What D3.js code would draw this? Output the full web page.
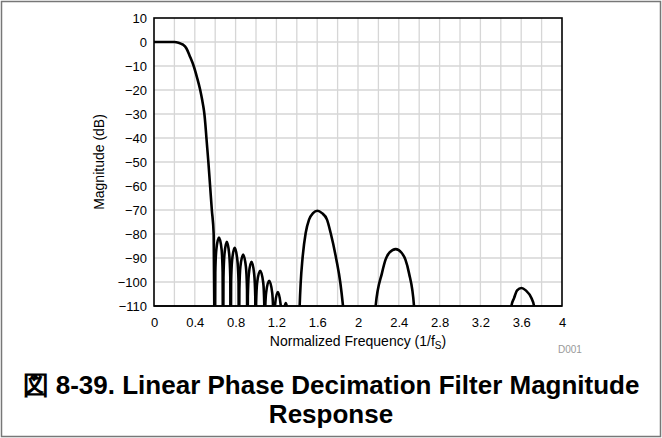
<!DOCTYPE html>
<html>
<head>
<meta charset="utf-8">
<script src="https://cdn.jsdelivr.net/npm/d3@7"></script>
<style>
  body { margin: 0; background: #fff; }
  svg { display: block; font-family: "Liberation Sans", Arial, sans-serif; }
</style>
</head>
<body>
<script>
// tick labels
const xTicks = [0, 0.4, 0.8, 1.2, 1.6, 2, 2.4, 2.8, 3.2, 3.6, 4];
const yTicks = [10, 0, -10, -20, -30, -40, -50, -60, -70, -80, -90, -100, -110];

// passband + main lobe (normalized freq, dB)
const mainLobe = [
  [0, 0], [0.1, 0], [0.2, 0], [0.24, -0.3], [0.284, -1.1], [0.317, -2.6],
  [0.35, -5.8], [0.389, -10], [0.42, -14.5], [0.452, -19.8], [0.473, -24.3],
  [0.484, -27], [0.494, -30], [0.504, -34.5], [0.514, -40], [0.533, -50],
  [0.55, -60], [0.567, -70], [0.585, -80], [0.597, -140]
];

// small sidelobes just past the transition band
const nearLobes = [
  [[0.597, -140], [0.601, -96], [0.611, -86.5], [0.637, -81.5], [0.663, -86.5], [0.673, -96], [0.677, -140]],
  [[0.677, -140], [0.681, -98], [0.691, -88.3], [0.714, -83.3], [0.737, -88.3], [0.748, -98], [0.752, -140]],
  [[0.752, -140], [0.756, -100], [0.766, -90.8], [0.791, -85.8], [0.817, -90.8], [0.829, -100], [0.833, -140]],
  [[0.833, -140], [0.837, -103], [0.847, -93.6], [0.874, -88.6], [0.901, -93.6], [0.912, -103], [0.916, -140]],
  [[0.916, -140], [0.92, -106], [0.93, -96.6], [0.956, -91.6], [0.982, -96.6], [0.993, -106], [0.997, -140]],
  [[0.997, -140], [1.001, -109], [1.011, -100.3], [1.041, -95.3], [1.071, -100.3], [1.081, -109], [1.085, -140]],
  [[1.085, -140], [1.089, -113], [1.099, -104.5], [1.129, -99.5], [1.159, -104.5], [1.169, -113], [1.173, -140]],
  [[1.173, -140], [1.177, -118], [1.187, -109.2], [1.214, -104.2], [1.241, -109.2], [1.251, -118], [1.255, -140]],
  [[1.255, -140], [1.259, -122], [1.269, -113.8], [1.292, -108.8], [1.315, -113.8], [1.326, -122], [1.33, -140]]
];

// aliasing images further out
const farLobes = [
  [[1.418, -125], [1.428, -110], [1.438, -100.4], [1.455, -90.7], [1.487, -79.6], [1.52, -74],
   [1.559, -71.3], [1.602, -70.3], [1.647, -71.3], [1.696, -74], [1.732, -79.6], [1.788, -90.7],
   [1.827, -100.4], [1.853, -110], [1.875, -120]],
  [[2.165, -118], [2.173, -110], [2.235, -96.3], [2.27, -90.7], [2.31, -87.7], [2.37, -86.3],
   [2.425, -87.7], [2.465, -90.7], [2.5, -96.3], [2.549, -110], [2.556, -118]],
  [[3.495, -118], [3.504, -110], [3.53, -106.7], [3.56, -103.5], [3.602, -102.5], [3.645, -103.5],
   [3.7, -106.7], [3.726, -110], [3.735, -118]]
];

const width = 662;
const height = 438;
const plotLeft = 154;
const plotRight = 562;
const plotTop = 18;
const plotBottom = 306;

const svg = d3.select("body")
  .append("svg")
  .attr("width", width)
  .attr("height", height);

// outer frame
svg.append("rect")
  .attr("x", 1.5).attr("y", 1.5)
  .attr("width", width - 3).attr("height", height - 3)
  .attr("fill", "none")
  .attr("stroke", "#777")
  .attr("stroke-width", 1.5);

const x = d3.scaleLinear().domain([0, 4]).range([plotLeft, plotRight]);
const y = d3.scaleLinear().domain([-110, 10]).range([plotBottom, plotTop]);

// grid
const grid = svg.append("g").attr("stroke", "#d6d6d6").attr("stroke-width", 1.3);
grid.selectAll("line.v")
  .data(d3.range(1, 20).map(i => i * 0.2))
  .join("line")
  .attr("class", "v")
  .attr("x1", d => x(d)).attr("x2", d => x(d))
  .attr("y1", plotTop).attr("y2", plotBottom);
grid.selectAll("line.h")
  .data(yTicks.slice(1, -1))
  .join("line")
  .attr("class", "h")
  .attr("x1", plotLeft).attr("x2", plotRight)
  .attr("y1", d => y(d)).attr("y2", d => y(d));

// frame
svg.append("rect")
  .attr("x", plotLeft).attr("y", plotTop)
  .attr("width", plotRight - plotLeft).attr("height", plotBottom - plotTop)
  .attr("fill", "none")
  .attr("stroke", "#000")
  .attr("stroke-width", 1.6);

// axes (labels only, no tick marks)
svg.append("g")
  .attr("transform", `translate(0, ${plotBottom})`)
  .call(d3.axisBottom(x).tickValues(xTicks).tickSize(0).tickPadding(12).tickFormat(d3.format("~g")))
  .call(g => g.select(".domain").remove())
  .selectAll("text")
  .attr("font-size", 13)
  .attr("font-family", "Liberation Sans, Arial, sans-serif")
  .attr("fill", "#000");

svg.append("g")
  .attr("transform", `translate(${plotLeft}, 0)`)
  .call(d3.axisLeft(y).tickValues(yTicks).tickSize(0).tickPadding(7))
  .call(g => g.select(".domain").remove())
  .selectAll("text")
  .attr("font-size", 13)
  .attr("font-family", "Liberation Sans, Arial, sans-serif")
  .attr("fill", "#000");

// curve
svg.append("clipPath")
  .attr("id", "plot-clip")
  .append("rect")
  .attr("x", plotLeft).attr("y", plotTop - 2)
  .attr("width", plotRight - plotLeft).attr("height", plotBottom - plotTop + 2);

const line = d3.line()
  .x(d => x(d[0]))
  .y(d => y(d[1]))
  .curve(d3.curveMonotoneX);

svg.append("g")
  .attr("clip-path", "url(#plot-clip)")
  .selectAll("path")
  .data([mainLobe, ...nearLobes, ...farLobes])
  .join("path")
  .attr("d", line)
  .attr("fill", "none")
  .attr("stroke", "#000")
  .attr("stroke-width", 2.6)
  .attr("stroke-linejoin", "round");

// redraw bottom axis line above curve
svg.append("line")
  .attr("x1", plotLeft).attr("x2", plotRight)
  .attr("y1", plotBottom).attr("y2", plotBottom)
  .attr("stroke", "#000")
  .attr("stroke-width", 1.6);

// axis titles
const xTitle = svg.append("text")
  .attr("x", (plotLeft + plotRight) / 2)
  .attr("y", 346)
  .attr("text-anchor", "middle")
  .attr("font-size", 14);
xTitle.append("tspan").text("Normalized Frequency (1/f");
xTitle.append("tspan").attr("font-size", 10).attr("dy", 3).text("S");
xTitle.append("tspan").attr("dy", -3).text(")");

svg.append("text")
  .attr("transform", `translate(104, ${(plotTop + plotBottom) / 2}) rotate(-90)`)
  .attr("text-anchor", "middle")
  .attr("font-size", 14)
  .text("Magnitude (dB)");

svg.append("text")
  .attr("x", 558)
  .attr("y", 353)
  .attr("font-size", 10)
  .attr("fill", "#999")
  .text("D001");

// caption
const caption = ["図 8-39. Linear Phase Decimation Filter Magnitude", "Response"];
svg.selectAll("text.caption")
  .data(caption)
  .join("text")
  .attr("class", "caption")
  .attr("x", width / 2)
  .attr("y", (d, i) => 394 + i * 29)
  .attr("text-anchor", "middle")
  .attr("font-size", 26)
  .attr("font-weight", "bold")
  .text(d => d);
</script>
</body>
</html>
